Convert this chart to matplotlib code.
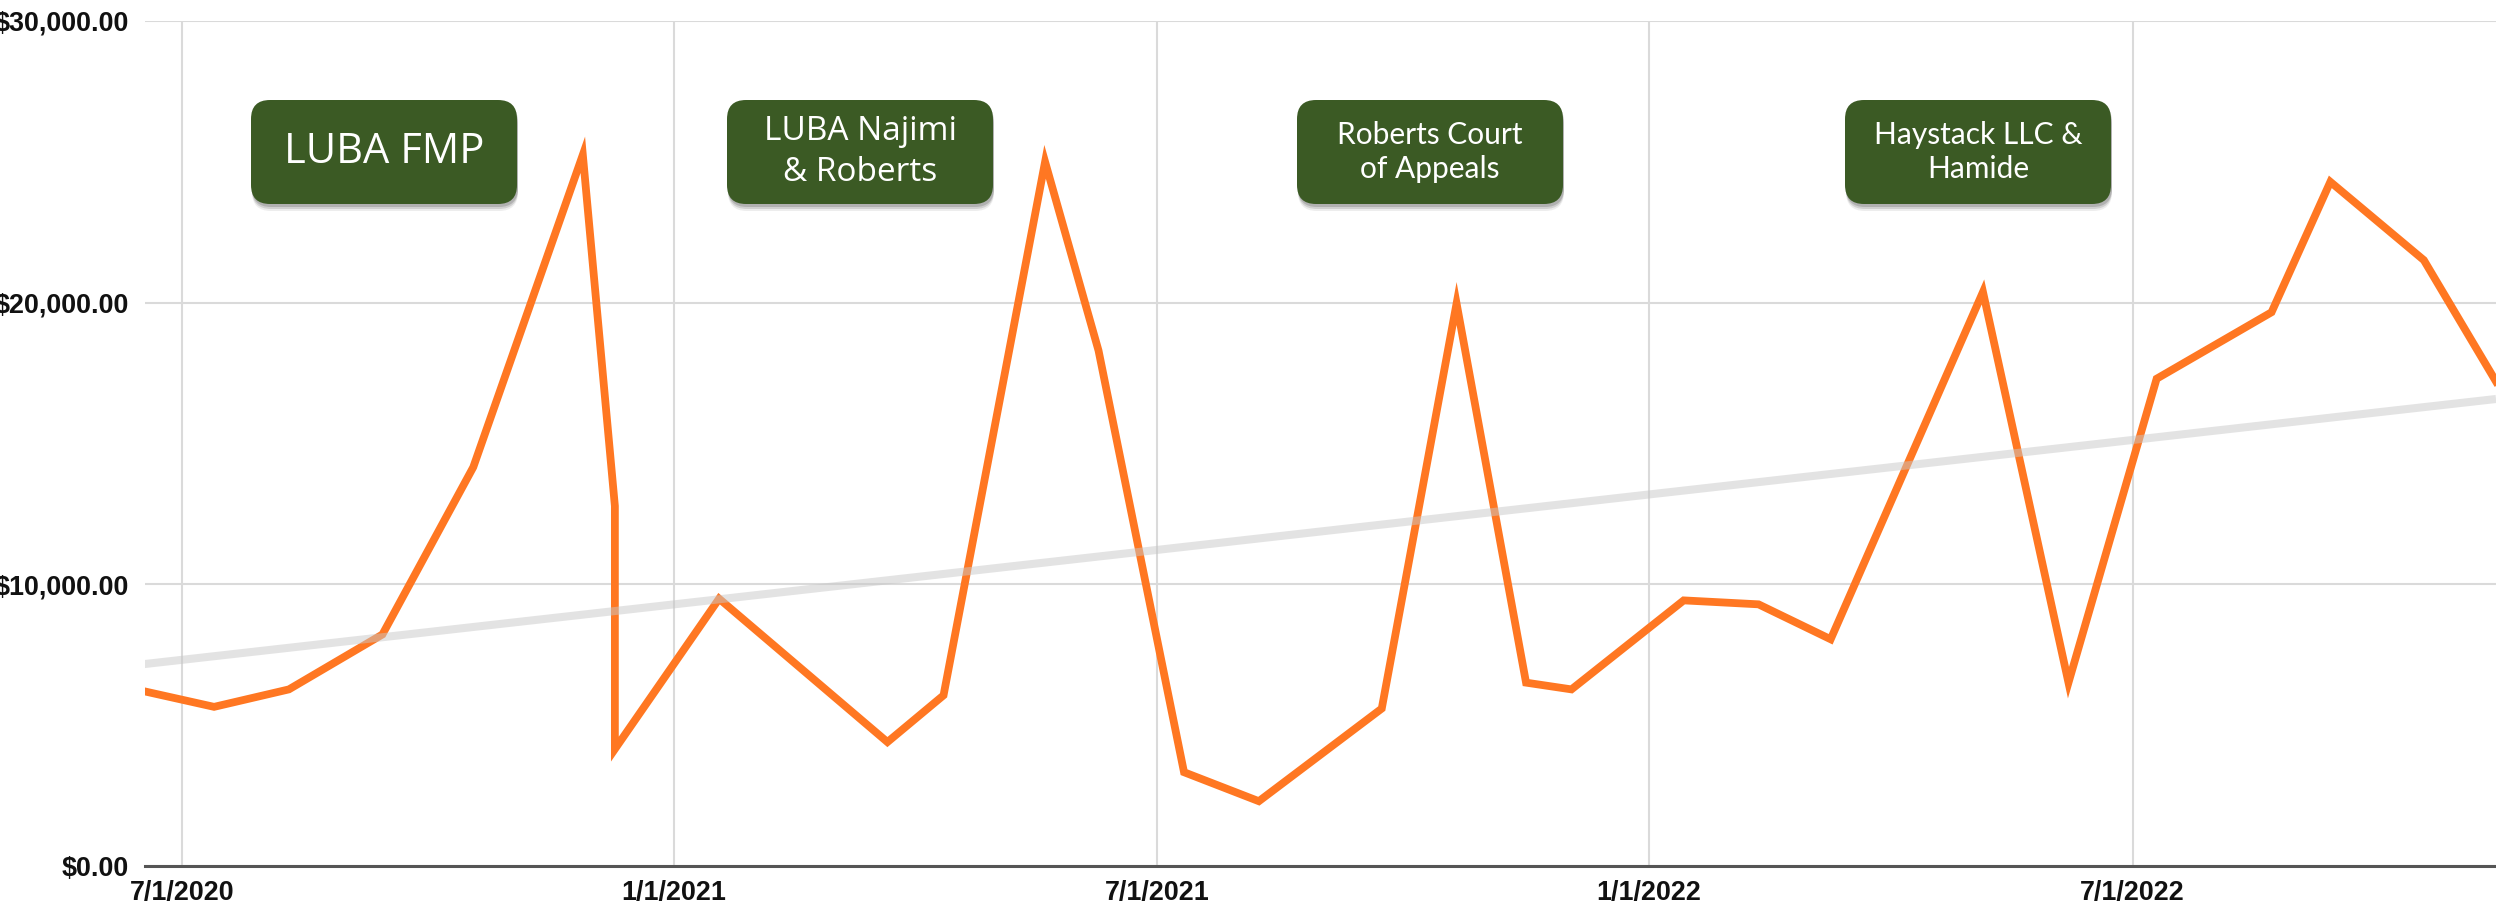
from __future__ import annotations

import os

os.environ.setdefault("MPLCONFIGDIR", "/tmp/matplotlib")

import numpy as np
import pandas as pd
import matplotlib

matplotlib.use("Agg")
import matplotlib.pyplot as plt
from matplotlib.patches import FancyBboxPatch
from matplotlib.transforms import IdentityTransform
from matplotlib.ticker import FuncFormatter

# monthly series
dates = [
    "2020-06-17", "2020-07-13", "2020-08-10", "2020-09-14", "2020-10-18",
    "2020-11-28", "2020-12-10", "2020-12-10", "2021-01-18", "2021-03-22",
    "2021-04-12", "2021-05-20", "2021-06-09", "2021-07-11", "2021-08-08",
    "2021-09-23", "2021-10-21", "2021-11-16", "2021-12-03", "2022-01-14",
    "2022-02-11", "2022-03-10", "2022-05-06", "2022-06-07", "2022-07-10",
    "2022-08-22", "2022-09-13", "2022-10-18", "2022-11-14",
]
values = [
    6200, 5650, 6270, 8220, 14160,
    25250, 12780, 4150, 9490, 4400,
    6060, 25000, 18300, 3330, 2300,
    5590, 19970, 6510, 6270, 9430,
    9290, 8050, 20380, 6510, 17300,
    19660, 24290, 21510, 17200,
]

trend_dates = ["2020-06-17", "2022-11-14"]
trend_values = [7170, 16580]

tick_dates = ["2020-07-01", "2021-01-01", "2021-07-01", "2022-01-01", "2022-07-01"]
tick_labels = ["7/1/2020", "1/1/2021", "7/1/2021", "1/1/2022", "7/1/2022"]
y_ticks = [0, 10000, 20000, 30000]

notes = ["LUBA FMP", "LUBA Najimi\n& Roberts", "Roberts Court\nof Appeals", "Haystack LLC &\nHamide"]

W, H = 2496, 909
fig = plt.figure(figsize=(W / 100, H / 100), dpi=100)
ax = fig.add_axes([144.6 / W, 43 / H, (W - 144.6) / W, (866 - 21) / H])

x = pd.to_datetime(dates)
ax.plot(x, values, color="#ff7722", lw=5.6, solid_joinstyle="miter", zorder=3)
ax.plot(pd.to_datetime(trend_dates), trend_values, color="#c8c8c8", lw=5.8,
        alpha=0.5, solid_capstyle="butt", zorder=4)

ax.set_xlim(x[0], x[-1])
ax.set_ylim(0, 30000)
ax.set_xticks(pd.to_datetime(tick_dates))
ax.set_xticklabels(tick_labels)
ax.set_yticks(y_ticks)
ax.yaxis.set_major_formatter(FuncFormatter(lambda v, p: f"${v:,.2f}"))

for lab in ax.get_xticklabels() + ax.get_yticklabels():
    lab.set_fontfamily("Liberation Sans")
    lab.set_fontweight("bold")
    lab.set_fontsize(19.4)
    lab.set_color("#111111")
ax.tick_params(axis="x", length=0, pad=10)
ax.tick_params(axis="y", length=0, pad=11)

ax.grid(True, color="#dadada", lw=1.5)
ax.set_axisbelow(True)
for side in ["top", "right", "left"]:
    ax.spines[side].set_visible(False)
ax.spines["bottom"].set_color("#555555")
ax.spines["bottom"].set_linewidth(2.2)
ax.spines["bottom"].set_zorder(5)

# annotation boxes (pixel coords, top-left origin)
boxes = [(251, 100, 517, 204), (727, 100, 993, 204), (1297, 100, 1563, 204), (1845, 100, 2111, 204)]
fonts = [("Open Sans", 30), ("Open Sans", 24), ("Lato", 21.5), ("Lato", 21.5)]
ident = IdentityTransform()
for (x0, y0, x1, y1), txt, (fam, fs) in zip(boxes, notes, fonts):
    bx, by, bw, bh = x0, H - y1, x1 - x0, y1 - y0
    for off, a in [(7, 0.10), (5, 0.18), (3, 0.25)]:
        sh = FancyBboxPatch((bx + 1, by - off), bw, bh, boxstyle="round,pad=0,rounding_size=19",
                            transform=ident, fc="#555555", ec="none", alpha=a, zorder=6)
        fig.patches.append(sh)
    box = FancyBboxPatch((bx, by), bw, bh, boxstyle="round,pad=0,rounding_size=19",
                         transform=ident, fc="#3b5a24", ec="none", zorder=7)
    fig.patches.append(box)
    fig.text((x0 + x1) / 2 / W, 1 - (y0 + y1) / 2 / H, txt, ha="center", va="center",
             color="white", family=fam, fontsize=fs, linespacing=1.3, zorder=8)

fig.savefig("out.png", dpi=100)
plt.close(fig)
